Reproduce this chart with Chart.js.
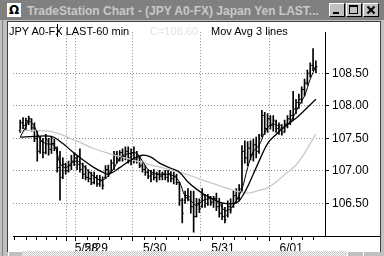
<!DOCTYPE html>
<html><head><meta charset="utf-8">
<script src="https://cdn.jsdelivr.net/npm/chart.js@4.4.1/dist/chart.umd.min.js"></script>
<style>
html,body{margin:0;padding:0;}
body{width:384px;height:256px;overflow:hidden;background:#c0c0c0;position:relative;font-family:"Liberation Sans",Arial,sans-serif;}
.a{position:absolute;}
#title{left:0;top:0;width:384px;height:20px;background:#808080;}
#ttext{left:27px;top:4px;font-weight:bold;font-size:12px;line-height:14px;color:#c8c8c8;white-space:nowrap;}
#icon{left:7px;top:3px;width:14px;height:14px;background:#fff;color:#000;font-size:12px;font-weight:bold;line-height:14px;text-align:center;font-family:"DejaVu Sans",sans-serif;}
.btn{top:3px;width:14px;height:12px;background:#c0c0c0;border-top:1px solid #fff;border-left:1px solid #fff;border-right:1px solid #000;border-bottom:1px solid #000;}
#frame{left:8px;top:22px;width:372px;height:229px;background:#fff;}
#lline{left:2px;top:20px;width:1px;height:236px;background:#808080;}
#lline2{left:7px;top:21px;width:1px;height:231px;background:#404040;}
#tline{left:7px;top:21px;width:374px;height:1px;background:#404040;}
#rline{left:380px;top:21px;width:1px;height:231px;background:#404040;}
#axisExt{left:325px;top:236px;width:55px;height:1px;background:#000;}
#hdr1{left:9px;top:25px;font-size:11px;line-height:13px;color:#000;white-space:nowrap;}
#hdr2{left:150px;top:25px;font-size:11px;line-height:13px;color:#e2e2e2;white-space:nowrap;}
#hdr3{left:211px;top:25px;font-size:11px;line-height:13px;color:#000;white-space:nowrap;}
#cursor{left:57px;top:24px;width:1px;height:13px;background:#000;}
#scroll{left:8px;top:251px;width:372px;height:5px;background:repeating-conic-gradient(#c0c0c0 0 25%,#fff 0 50%) 0 0/2px 2px;}
.sb{top:251px;height:5px;background:#c0c0c0;border-top:1px solid #fff;border-left:1px solid #fff;box-sizing:border-box;}
#cv{left:8px;top:22px;}
</style></head>
<body>
<div class="a" id="title"></div>
<div class="a" id="icon">Ω</div>
<div class="a" id="ttext">TradeStation Chart - (JPY A0-FX) Japan Yen LAST...</div>
<div class="a btn" style="left:329px"><div class="a" style="left:3px;top:8px;width:6px;height:2px;background:#000"></div></div>
<div class="a btn" style="left:346px"><div class="a" style="left:2px;top:1px;width:7px;height:6px;border:1px solid #000;border-top-width:2px"></div></div>
<div class="a btn" style="left:363px"><div class="a" style="left:2px;top:5px;width:10px;height:2px;background:#000;transform:rotate(45deg)"></div><div class="a" style="left:2px;top:5px;width:10px;height:2px;background:#000;transform:rotate(-45deg)"></div></div>
<div class="a" id="frame"></div>
<div class="a" id="lline"></div>
<div class="a" id="lline2"></div>
<div class="a" id="tline"></div>
<div class="a" id="rline"></div>
<canvas class="a" id="cv" width="372" height="230"></canvas>
<div class="a" id="axisExt"></div>
<div class="a" id="hdr1">JPY A0-FX LAST-60 min</div>
<div class="a" id="hdr2">C=108.60</div>
<div class="a" id="hdr3">Mov Avg 3 lines</div>
<div class="a" id="cursor"></div>
<div class="a" id="scroll"></div>
<div class="a sb" style="left:8px;width:14px"></div>
<div class="a sb" style="left:347px;width:16px"></div>
<div class="a sb" style="left:363px;width:17px"></div>
<script>
// ---- data (60-minute bars, JPY A0-FX) ----
const dayLabels = ['5/28', '5/29', '5/30', '5/31', '6/01'];
const dayTicks = [17.8, 21.2, 41.8, 65.8, 89.8];
const hourTicks = [0.17, 4.17, 7.5, 10.83, 14.5, 25.83, 29.5, 33.5, 37.5, 45.83, 49.5, 53.5, 57.5, 61.17, 69.5, 73.5, 77.5, 81.17, 85.83, 93.5, 97.5, 101.17];
const priceTicks = [106.5, 107.0, 107.5, 108.0, 108.5];

const open = [107.62,107.74,107.70,107.77,107.80,107.66,107.50,107.30,107.45,107.28,
107.46,107.33,107.42,107.35,107.05,106.90,107.10,107.00,107.08,107.15,
107.20,107.10,107.02,106.95,106.90,106.88,106.82,106.90,106.80,106.85,
106.90,107.02,106.98,107.12,107.25,107.18,107.28,107.22,107.30,107.20,
107.28,107.18,107.20,107.08,107.02,106.98,106.92,106.95,106.90,106.95,
106.92,106.95,106.90,106.96,106.88,106.92,106.82,106.55,106.55,106.62,
106.60,106.45,106.30,106.50,106.45,106.62,106.50,106.60,106.52,106.58,
106.45,106.35,106.30,106.32,106.45,106.45,106.62,106.58,106.72,107.30,
107.20,107.35,107.25,107.40,107.30,107.55,107.85,107.65,107.80,107.70,
107.76,107.65,107.70,107.60,107.72,107.80,107.85,107.95,108.05,108.10,
108.25,108.35,108.50,108.62,108.58];
const high = [107.78,107.82,107.81,107.84,107.80,107.74,107.62,107.53,107.50,107.56,
107.50,107.52,107.49,107.37,107.30,107.20,107.12,107.15,107.24,107.27,
107.23,107.34,107.12,107.08,107.02,106.98,106.98,106.93,106.93,106.91,
107.08,107.09,107.17,107.30,107.30,107.31,107.34,107.37,107.37,107.34,
107.37,107.30,107.22,107.12,107.08,107.02,107.01,107.02,106.98,107.01,
106.98,107.01,107.01,106.99,106.98,106.95,106.83,106.58,106.69,106.73,
106.69,106.69,106.58,106.57,106.73,106.64,106.64,106.61,106.61,106.66,
106.58,106.50,106.44,106.54,106.57,106.69,106.73,106.79,107.39,107.46,
107.45,107.46,107.49,107.52,107.56,107.93,107.90,107.88,107.85,107.85,
107.78,107.74,107.71,107.78,107.85,107.93,108.22,108.10,108.18,108.29,
108.41,108.55,108.66,108.88,108.69];
const low = [107.59,107.65,107.62,107.71,107.61,107.45,107.15,107.27,107.20,107.26,
107.24,107.27,107.31,106.98,106.55,106.88,106.95,106.98,107.02,107.08,
107.02,106.98,106.88,106.86,106.83,106.79,106.80,106.76,106.76,106.72,
106.88,106.91,106.98,107.02,107.12,107.15,107.15,107.17,107.12,107.09,
107.12,107.12,107.05,106.98,106.93,106.88,106.83,106.86,106.83,106.86,
106.86,106.86,106.83,106.83,106.80,106.79,106.47,106.20,106.50,106.54,
106.35,106.06,106.29,106.36,106.44,106.44,106.47,106.47,106.44,106.39,
106.29,106.25,106.20,106.29,106.35,106.44,106.50,106.54,106.69,107.12,
107.08,107.17,107.15,107.20,107.27,107.52,107.56,107.59,107.64,107.61,
107.59,107.56,107.55,107.59,107.66,107.71,107.78,107.88,107.96,108.04,
108.15,108.32,108.44,108.54,108.51];
const close = [107.74,107.70,107.77,107.80,107.66,107.50,107.30,107.45,107.28,107.48,
107.33,107.42,107.35,107.05,106.90,107.10,107.00,107.08,107.15,107.20,
107.10,107.02,106.95,106.90,106.88,106.82,106.90,106.80,106.85,106.78,
107.02,106.98,107.12,107.25,107.18,107.28,107.22,107.30,107.20,107.28,
107.18,107.25,107.08,107.02,106.98,106.92,106.95,106.90,106.95,106.92,
106.95,106.90,106.96,106.88,106.92,106.82,106.55,106.35,106.62,106.60,
106.45,106.30,106.50,106.42,106.65,106.50,106.60,106.52,106.58,106.45,
106.35,106.30,106.25,106.45,106.40,106.62,106.58,106.72,107.30,107.20,
107.35,107.25,107.40,107.30,107.50,107.85,107.65,107.80,107.70,107.78,
107.65,107.70,107.58,107.72,107.80,107.85,107.95,108.05,108.10,108.25,
108.35,108.50,108.62,108.58,108.60];

const fastIdx = [0,2,3,5,7,9,12,14,16,18,20,22,25,28,30,32,34,36,39,41,43,45,48,51,54,56,58,60,62,64,66,68,70,72,74,76,78,80,82,84,86,88,90,92,94,96,98,100,102,104];
const fastVal = [107.52,107.68,107.77,107.68,107.49,107.42,107.39,107.12,107.05,107.12,107.15,107.09,106.95,106.86,106.88,106.98,107.12,107.23,107.27,107.27,107.15,107.02,106.95,106.95,106.92,106.83,106.61,106.54,106.47,106.54,106.57,106.57,106.50,106.39,106.42,106.54,106.72,107.05,107.30,107.39,107.59,107.71,107.71,107.65,107.71,107.82,108.00,108.15,108.41,108.61];
const medIdx = [0,5,11,15,18,22,26,29,31,35,39,43,46,49,53,56,59,62,65,69,72,75,77,80,83,87,90,93,97,100,104];
const medVal = [107.52,107.53,107.53,107.42,107.31,107.17,107.05,106.98,106.95,107.05,107.17,107.24,107.21,107.12,107.04,106.98,106.83,106.72,106.63,106.54,106.50,106.50,106.54,106.76,107.05,107.42,107.56,107.68,107.81,107.93,108.10];
const slowIdx = [0,5,10,15,18,22,26,31,36,41,46,51,56,61,66,71,76,80,84,87,90,94,97,100,102,104];
const slowVal = [107.62,107.62,107.61,107.55,107.49,107.42,107.34,107.27,107.21,107.15,107.09,107.04,106.98,106.91,106.83,106.76,106.69,106.66,106.70,106.74,106.83,106.98,107.09,107.27,107.42,107.56];

// ---- build chart ----
Chart.defaults.font.family = '"Liberation Sans", Arial, sans-serif';
Chart.defaults.font.size = 12;
Chart.defaults.color = '#000';

const bars = close.map((_, i) => ({x: i, y: [low[i], high[i]]}));
const opens = open.map((v, i) => ({x: i, y: v}));
const closes = close.map((v, i) => ({x: i, y: v}));
const pts = (xs, ys) => xs.map((x, k) => ({x: x, y: ys[k]}));
const allX = dayTicks.concat(hourTicks).sort((a, b) => a - b);
const isMajor = v => dayTicks.some(d => Math.abs(d - v) < 1e-6);
const labelOf = v => { const k = dayTicks.findIndex(d => Math.abs(d - v) < 1e-6); return k >= 0 ? dayLabels[k] : ''; };

new Chart(document.getElementById('cv'), {
  data: {
    datasets: [
      {type: 'line', data: pts(fastIdx, fastVal), borderColor: '#000', borderWidth: 1, pointRadius: 0, tension: 0.35},
      {type: 'line', data: pts(medIdx, medVal), borderColor: '#000', borderWidth: 1.3, pointRadius: 0, tension: 0.35},
      {type: 'line', data: pts(slowIdx, slowVal), borderColor: '#c8c8c8', borderWidth: 1.3, pointRadius: 0, tension: 0.35},
      {type: 'scatter', data: opens, pointStyle: 'dash', pointRadius: 1.5, rotation: 180, borderColor: '#000', borderWidth: 1},
      {type: 'scatter', data: closes, pointStyle: 'dash', pointRadius: 1.5, rotation: 0, borderColor: '#000', borderWidth: 1},
      {type: 'bar', data: bars, backgroundColor: '#000', borderWidth: 0, barThickness: 1}
    ]
  },
  options: {
    responsive: false, animation: false, devicePixelRatio: 1, events: [],
    layout: {padding: 0},
    plugins: {legend: {display: false}, tooltip: {enabled: false}},
    scales: {
      x: {
        type: 'linear', position: 'bottom', min: -0.5, max: 105.1667,
        afterBuildTicks: s => { s.ticks = allX.map(v => ({value: v})); },
        afterFit: s => { s.height = 16; },
        ticks: {autoSkip: false, maxRotation: 0, minRotation: 0, align: 'start', labelOffset: 4, padding: 0,
          font: {size: 12}, color: '#000', callback: v => labelOf(v)},
        grid: {
          color: c => (c.tick && isMajor(c.tick.value)) ? '#8a8a8a' : 'rgba(0,0,0,0)',
          tickColor: '#000', tickLength: 5, lineWidth: 1,
          tickBorderDash: c => (c.tick && isMajor(c.tick.value)) ? [] : [3, 20]
        },
        border: {display: true, color: '#000', width: 1, dash: [1, 2]}
      },
      y: {
        type: 'linear', position: 'right', min: 106.0, max: 109.13,
        afterBuildTicks: s => { s.ticks = priceTicks.map(v => ({value: v})); },
        afterFit: s => { s.width = 55; },
        ticks: {padding: 3, font: {size: 12}, color: '#000', callback: v => Number(v).toFixed(2)},
        grid: {color: '#8a8a8a', tickColor: '#000', tickLength: 4, lineWidth: 1},
        border: {display: true, color: '#000', width: 1, dash: [1, 2]}
      }
    }
  }
});
</script>
</body></html>
